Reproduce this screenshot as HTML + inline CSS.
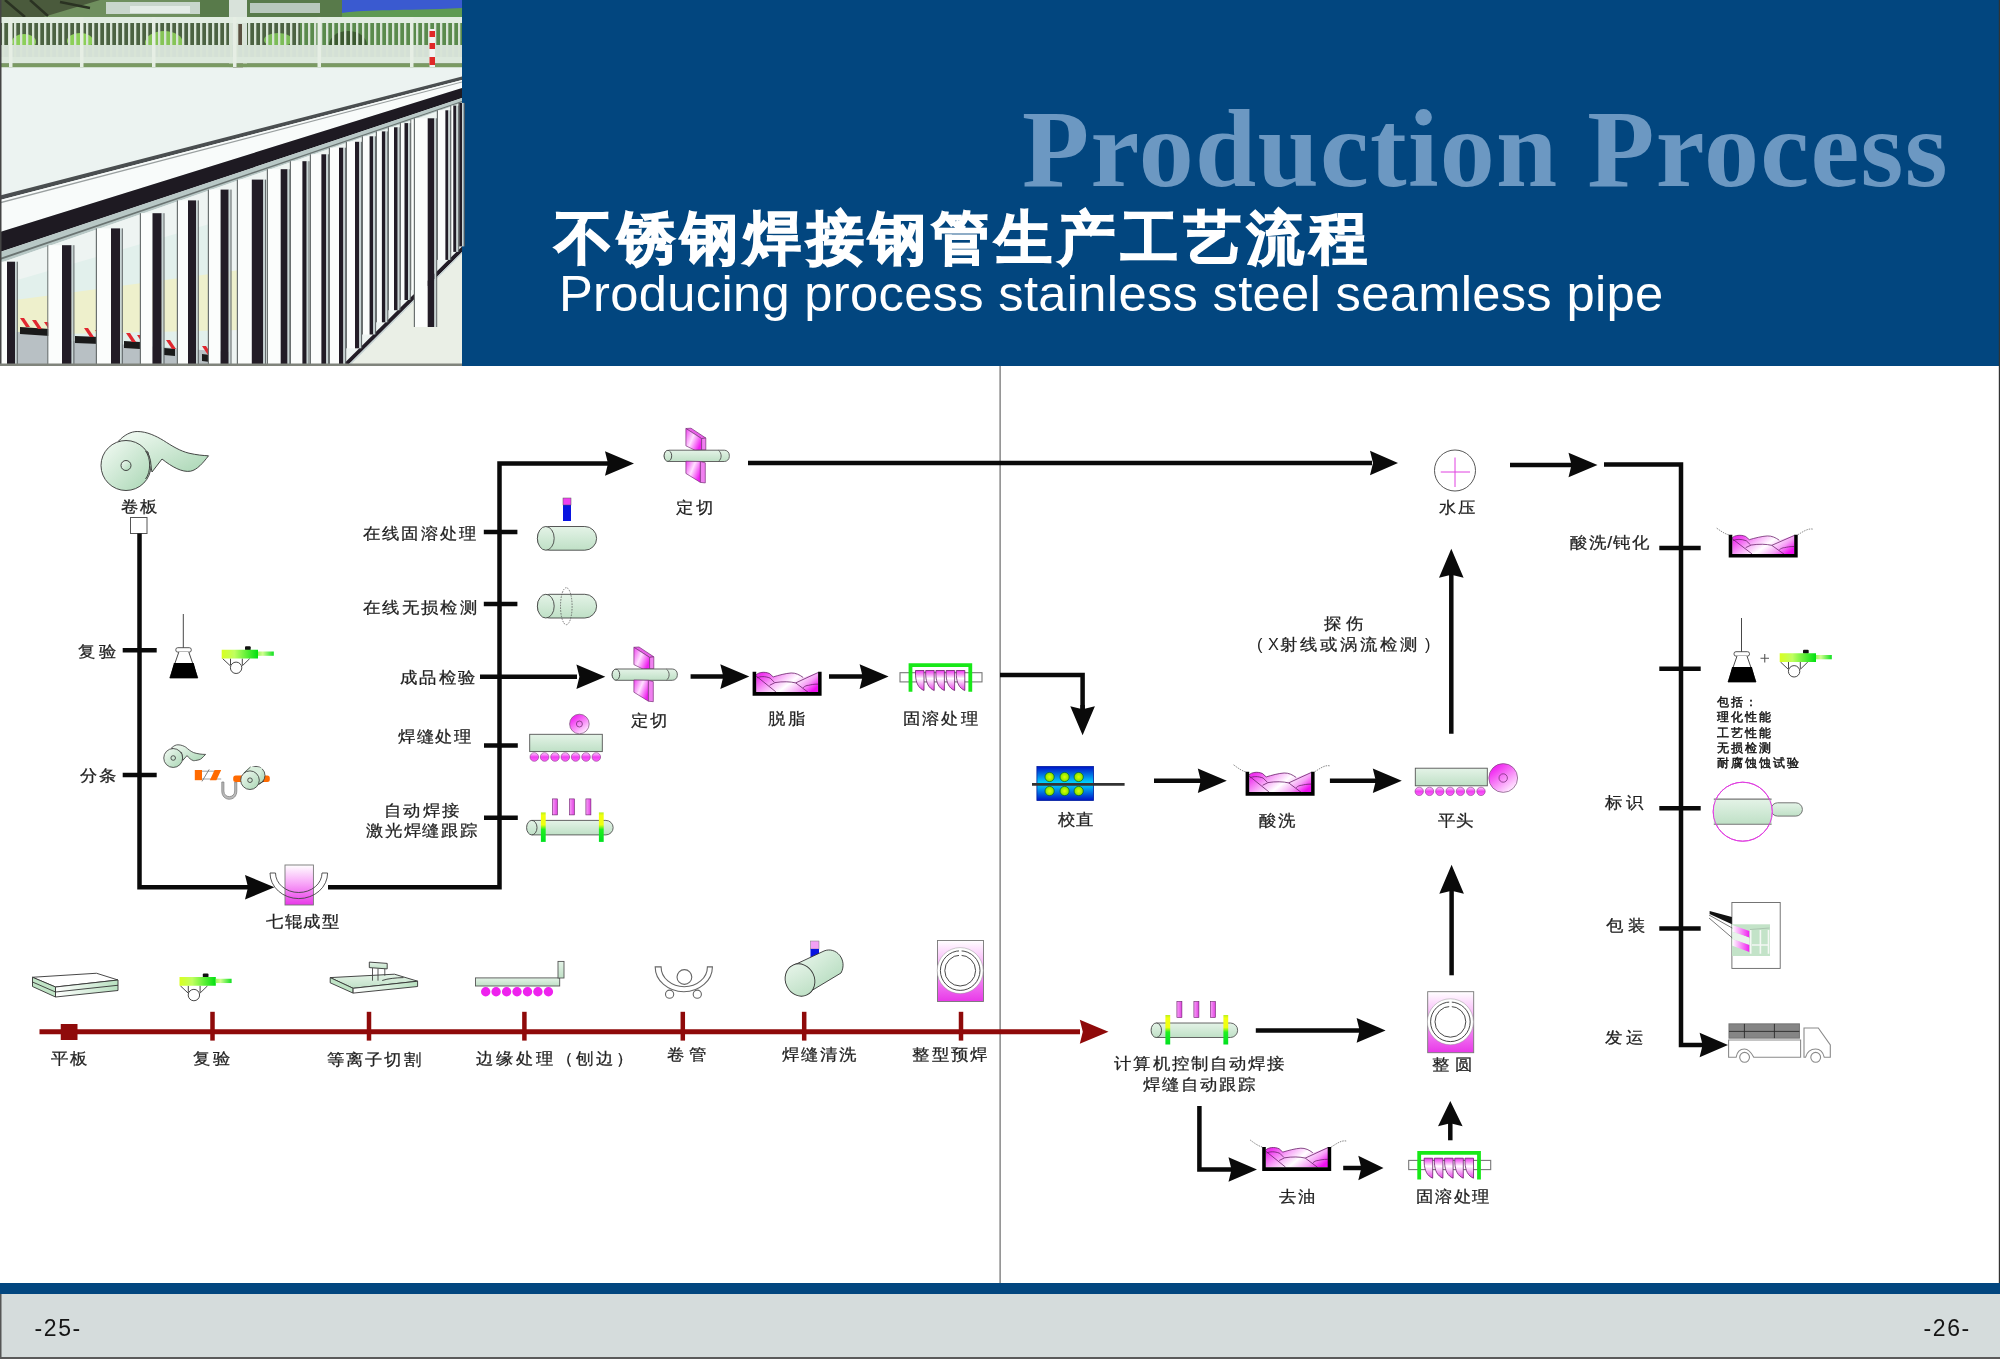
<!DOCTYPE html><html><head><meta charset="utf-8"><style>
html,body{margin:0;padding:0;background:#fff;width:2000px;height:1359px;overflow:hidden}
svg{display:block;will-change:transform}
text{font-family:"Liberation Sans", sans-serif}
</style></head><body>
<svg width="2000" height="1359" viewBox="0 0 2000 1359">
<defs>
<linearGradient id="gG" x1="0" y1="0" x2="1" y2="1"><stop offset="0" stop-color="#f4fbf5"/><stop offset="1" stop-color="#a9d6b4"/></linearGradient>
<linearGradient id="gGv" x1="0" y1="0" x2="0" y2="1"><stop offset="0" stop-color="#e4f3e7"/><stop offset="1" stop-color="#bfe0c6"/></linearGradient>
<linearGradient id="gMv" x1="0" y1="0" x2="0" y2="1"><stop offset="0" stop-color="#ffffff"/><stop offset="0.45" stop-color="#f8a8f8"/><stop offset="1" stop-color="#e838e8"/></linearGradient>
<linearGradient id="gMh" x1="0" y1="0" x2="1" y2="0"><stop offset="0" stop-color="#e030e0"/><stop offset="0.5" stop-color="#ffffff"/><stop offset="1" stop-color="#f020f0"/></linearGradient>
<linearGradient id="gTooth" x1="0" y1="0" x2="0" y2="1"><stop offset="0" stop-color="#ee30ee"/><stop offset="0.4" stop-color="#ffffff"/><stop offset="1" stop-color="#e840e8"/></linearGradient>
<linearGradient id="gLime" x1="0" y1="0" x2="1" y2="0"><stop offset="0" stop-color="#e6ff50"/><stop offset="1" stop-color="#22e022"/></linearGradient>
<linearGradient id="gMr" x1="0.2" y1="0.1" x2="0.8" y2="0.9"><stop offset="0" stop-color="#f020f0"/><stop offset="1" stop-color="#ffe8ff"/></linearGradient><linearGradient id="gRoll" x1="0" y1="0" x2="0" y2="1"><stop offset="0" stop-color="#ffd0ff"/><stop offset="0.5" stop-color="#f040f0"/><stop offset="1" stop-color="#ff60ff"/></linearGradient>
<radialGradient id="gY" cx="0.5" cy="0.5" r="0.55"><stop offset="0" stop-color="#e0ff00"/><stop offset="1" stop-color="#70e000"/></radialGradient>
<linearGradient id="gBlue" x1="0" y1="0" x2="0" y2="1"><stop offset="0" stop-color="#0010c8"/><stop offset="0.5" stop-color="#00dcff"/><stop offset="1" stop-color="#0010c8"/></linearGradient>
<linearGradient id="gClamp" x1="0" y1="0" x2="0" y2="1"><stop offset="0" stop-color="#b8f020"/><stop offset="0.1" stop-color="#f0ff10"/><stop offset="0.42" stop-color="#f0ff10"/><stop offset="0.58" stop-color="#20f020"/><stop offset="1" stop-color="#00e020"/></linearGradient>
<linearGradient id="gBar" x1="0" y1="0" x2="1" y2="0"><stop offset="0" stop-color="#f8a0f8"/><stop offset="1" stop-color="#e040e0"/></linearGradient>
<linearGradient id="gOr" x1="0" y1="0" x2="1" y2="0"><stop offset="0" stop-color="#ff5a00"/><stop offset="1" stop-color="#ff7a10"/></linearGradient>

<linearGradient id="gTank" x1="0" y1="0.3" x2="1" y2="0.7"><stop offset="0" stop-color="#ee30ee"/><stop offset="0.3" stop-color="#f8a8f8"/><stop offset="0.55" stop-color="#ffffff"/><stop offset="0.8" stop-color="#f6a0f6"/><stop offset="1" stop-color="#f010f0"/></linearGradient>
<g id="tank">
 <path d="M3.6,3 C6,0.5 12,-0.5 17,1.8 L20.6,5.1 C26,3.5 33,1.5 38.6,1.2 C43,1 47,3 50.6,5.7 L65.8,0.6 V20.3 H3.6 Z" fill="url(#gTank)"/>
 <path d="M3.6,3 C6,0.5 12,-0.5 17,1.8 L20.6,5.1 C26,3.5 33,1.5 38.6,1.2 C43,1 47,3 50.6,5.7 M65.8,0.6 L43.1,11.1 C38,9.8 30,9.5 22.4,10.8 L17,13.5 M4.4,6 C8,4.5 12,4.2 17.6,6.3 L21.8,10.5 M3.2,3.9 L23.3,20.1 M43.1,11.1 L55.4,20.4 M50.6,15.9 C52,14.5 54,13.5 56,13.5 C58,13 61,12.3 65.5,12.3" fill="none" stroke="#6a206a" stroke-width="0.8"/>
 <path d="M0,0 H3.6 V20.3 H65.5 V0 H69 V24 H0 Z" fill="#000"/>
</g>
<g id="heat">
 <rect x="0.5" y="9.5" width="82" height="9.2" fill="#fff" stroke="#777" stroke-width="1.1"/>
 <path id="tooth" d="M16,7.3 h8.5 v20 C19,25 16.5,20 16,12 Z" fill="url(#gTooth)" stroke="#6a206a" stroke-width="0.8"/>
 <use href="#tooth" x="10.2"/><use href="#tooth" x="20.4"/><use href="#tooth" x="30.6"/><use href="#tooth" x="40.8"/>
 <path d="M11,28.5 V1.9 H70.8 V28.5" fill="none" stroke="#18e818" stroke-width="3.8"/>
</g>
<linearGradient id="gLime2" x1="0" y1="0" x2="1" y2="0"><stop offset="0" stop-color="#d8ff20"/><stop offset="0.35" stop-color="#c0ff60"/><stop offset="1" stop-color="#00e010"/></linearGradient>
<linearGradient id="gLime3" x1="0" y1="0" x2="1" y2="0"><stop offset="0" stop-color="#a0f860"/><stop offset="0.3" stop-color="#d0ff90"/><stop offset="1" stop-color="#10e020"/></linearGradient>
<g id="gauge">
 <path d="M7.5,18.5 L15.3,25.8 M15.5,18.5 V25.3 M27.3,18.5 V25.3 M34.8,18.5 L27.3,25.8" stroke="#333" stroke-width="0.9" fill="none"/>
 <circle cx="21.1" cy="27.8" r="5.7" fill="#fff" stroke="#333" stroke-width="0.9"/>
 <rect x="30" y="6.2" width="5.7" height="4" rx="1" fill="#111"/>
 <rect x="6.7" y="9.75" width="36.3" height="8.75" fill="url(#gLime2)"/>
 <rect x="43" y="11.5" width="15.8" height="4.3" fill="url(#gLime3)"/>
</g>
<g id="flask">
 <line x1="8" y1="0" x2="8" y2="45" stroke="#333" stroke-width="0.9"/>
 <rect x="0.5" y="33.7" width="15.5" height="4.4" rx="2" fill="#fff" stroke="#444" stroke-width="0.9"/>
 <path d="M3.5,38.1 L-5.5,64 H22.5 L13.5,38.1" fill="#fff" stroke="#333" stroke-width="0.9"/>
 <path d="M-1.4,49 H18.4 L22.5,64 H-5.5 Z" fill="#000"/>
</g>
<linearGradient id="gBlade" x1="0" y1="0" x2="1" y2="0.6"><stop offset="0" stop-color="#f040f0"/><stop offset="0.5" stop-color="#ffe0ff"/><stop offset="1" stop-color="#f020f0"/></linearGradient>
<g id="cutter">
 <path d="M30.9,8.5 L36,8.2 L50.8,18 L46.6,18.6 Z" fill="#e860e8" stroke="#7a307a" stroke-width="0.7"/>
 <path d="M30.9,8.5 L46.6,18.6 L46.6,30 L40.2,30.4 L30.9,25.8 Z" fill="url(#gBlade)" stroke="#7a307a" stroke-width="0.7"/>
 <path d="M46.6,18.6 L50.8,18 L50.8,30 L46.6,30 Z" fill="#f080f0" stroke="#7a307a" stroke-width="0.7"/>
 <rect x="9.3" y="30.2" width="65" height="11.3" rx="5" fill="url(#gGv)" stroke="#555" stroke-width="0.9"/>
 <ellipse cx="12.9" cy="35.85" rx="3.8" ry="5.5" fill="url(#gGv)" stroke="#444" stroke-width="0.9"/>
 <path d="M63.5,30.4 C67,33 67,39 63.5,41.3" fill="none" stroke="#555" stroke-width="0.9"/>
 <path d="M30.9,41.2 L45.4,41.5 L45.4,62.4 L30.9,53.4 Z" fill="url(#gBlade)" stroke="#7a307a" stroke-width="0.7"/>
 <path d="M45.4,41.5 L50.3,42.8 L50.3,62.9 L45.4,62.4 Z" fill="#f080f0" stroke="#7a307a" stroke-width="0.7"/>
</g>
<g id="weld">
 <path d="M5.4,8 H79.5 A7.25,7.25 0 0 1 79.5,22.5 H5.4 Z" fill="url(#gGv)" stroke="#555" stroke-width="0.9"/>
 <ellipse cx="5.4" cy="15.25" rx="5.2" ry="7.25" fill="url(#gGv)" stroke="#444" stroke-width="0.9"/>
 <rect x="26" y="-13.5" width="5" height="16" fill="url(#gBar)" stroke="#6a206a" stroke-width="0.6"/>
 <rect x="43" y="-13.5" width="5" height="16" fill="url(#gBar)" stroke="#6a206a" stroke-width="0.6"/>
 <rect x="59.5" y="-13.5" width="5" height="16" fill="url(#gBar)" stroke="#6a206a" stroke-width="0.6"/>
 <rect x="14.5" y="0" width="4.8" height="29.5" fill="url(#gClamp)"/>
 <rect x="72.5" y="0" width="4.8" height="29.5" fill="url(#gClamp)"/>
</g>
<g id="rounder">
 <rect x="0.5" y="0.5" width="46" height="61" fill="url(#gMv)" stroke="#777" stroke-width="0.9"/>
 <circle cx="23.2" cy="30.6" r="23" fill="#fff" stroke="#999" stroke-width="0.5"/>
 <circle cx="23.2" cy="30.6" r="19.8" fill="none" stroke="#333" stroke-width="0.9"/>
 <circle cx="23.2" cy="30.6" r="15.4" fill="none" stroke="#333" stroke-width="0.9"/>
 <rect x="22" y="9" width="2.6" height="8" fill="#fff"/>
</g>
<g id="bath">
 <path d="M-12,-7 C-8,-4 -4,-1 0,0" fill="none" stroke="#555" stroke-width="0.7" stroke-dasharray="1.5,1"/>
 <path d="M69,0 C74,-3 79,-7 84,-6" fill="none" stroke="#555" stroke-width="0.7" stroke-dasharray="1.5,1"/>
 <use href="#tank"/>
</g>
</defs>

<rect x="462" y="0" width="1538" height="366" fill="#02467f"/>
<rect x="1998.8" y="0" width="1.2" height="1359" fill="#333"/>
<g id="photo">
<rect x="0" y="0" width="462" height="366" fill="#eaf2ef"/>
<rect x="0" y="0" width="462" height="20" fill="#6f8f5e"/>
<path d="M0,0 H100 C80,6 60,12 40,18 L0,18 Z" fill="#4a5a3c"/>
<path d="M5,0 L25,17 M30,0 L48,16 M60,2 L90,8" stroke="#2a3222" stroke-width="2.5"/>
<rect x="106" y="2" width="94" height="12" fill="#c9d6cc"/>
<rect x="130" y="6" width="60" height="7" fill="#e4ece6"/>
<rect x="200" y="0" width="142" height="18" fill="#587a4a"/>
<rect x="250" y="3" width="70" height="10" fill="#b8c8bc"/>
<rect x="342" y="0" width="120" height="13" fill="#3a5ad0"/>
<path d="M342,13 C370,9 400,11 462,8 V20 H342 Z" fill="#5e9a52"/>
<rect x="0" y="20" width="462" height="46" fill="#4c6242"/>
<rect x="300" y="20" width="162" height="26" fill="#5a8a4c"/>
<ellipse cx="24" cy="42" rx="12" ry="8" fill="#8ccf58"/>
<ellipse cx="80" cy="41" rx="13" ry="8" fill="#8ccf58"/>
<ellipse cx="164" cy="43" rx="19" ry="12" fill="#86c456"/>
<ellipse cx="348" cy="45" rx="19" ry="14" fill="#3c5a30"/>
<ellipse cx="278" cy="40" rx="14" ry="7" fill="#7cbc58"/>
<rect x="229" y="0" width="18" height="68" fill="#d8e2da"/><rect x="233" y="24" width="10" height="44" fill="#5a5040"/>
<rect x="0" y="45" width="462" height="12" fill="#d4e0d6"/>
<rect x="0" y="17" width="462" height="6" fill="#e2ede2"/>
<rect x="0" y="57" width="462" height="6.5" fill="#dce8dc"/>
<rect x="0" y="63.5" width="462" height="4" fill="#7a9a62"/>
<rect x="2.0" y="23" width="2.3" height="34" fill="#d8e4d6"/>
<rect x="8.0" y="23" width="2.3" height="34" fill="#d8e4d6"/>
<rect x="14.0" y="23" width="2.3" height="34" fill="#d8e4d6"/>
<rect x="20.0" y="23" width="2.3" height="34" fill="#d8e4d6"/>
<rect x="26.0" y="23" width="2.3" height="34" fill="#d8e4d6"/>
<rect x="32.0" y="23" width="2.3" height="34" fill="#d8e4d6"/>
<rect x="38.0" y="23" width="2.3" height="34" fill="#d8e4d6"/>
<rect x="44.0" y="23" width="2.3" height="34" fill="#d8e4d6"/>
<rect x="50.0" y="23" width="2.3" height="34" fill="#d8e4d6"/>
<rect x="56.0" y="23" width="2.3" height="34" fill="#d8e4d6"/>
<rect x="62.0" y="23" width="2.3" height="34" fill="#d8e4d6"/>
<rect x="68.0" y="23" width="2.3" height="34" fill="#d8e4d6"/>
<rect x="74.0" y="23" width="2.3" height="34" fill="#d8e4d6"/>
<rect x="80.0" y="23" width="2.3" height="34" fill="#d8e4d6"/>
<rect x="86.0" y="23" width="2.3" height="34" fill="#d8e4d6"/>
<rect x="92.0" y="23" width="2.3" height="34" fill="#d8e4d6"/>
<rect x="98.0" y="23" width="2.3" height="34" fill="#d8e4d6"/>
<rect x="104.0" y="23" width="2.3" height="34" fill="#d8e4d6"/>
<rect x="110.0" y="23" width="2.3" height="34" fill="#d8e4d6"/>
<rect x="116.0" y="23" width="2.3" height="34" fill="#d8e4d6"/>
<rect x="122.0" y="23" width="2.3" height="34" fill="#d8e4d6"/>
<rect x="128.0" y="23" width="2.3" height="34" fill="#d8e4d6"/>
<rect x="134.0" y="23" width="2.3" height="34" fill="#d8e4d6"/>
<rect x="140.0" y="23" width="2.3" height="34" fill="#d8e4d6"/>
<rect x="146.0" y="23" width="2.3" height="34" fill="#d8e4d6"/>
<rect x="152.0" y="23" width="2.3" height="34" fill="#d8e4d6"/>
<rect x="158.0" y="23" width="2.3" height="34" fill="#d8e4d6"/>
<rect x="164.0" y="23" width="2.3" height="34" fill="#d8e4d6"/>
<rect x="170.0" y="23" width="2.3" height="34" fill="#d8e4d6"/>
<rect x="176.0" y="23" width="2.3" height="34" fill="#d8e4d6"/>
<rect x="182.0" y="23" width="2.3" height="34" fill="#d8e4d6"/>
<rect x="188.0" y="23" width="2.3" height="34" fill="#d8e4d6"/>
<rect x="194.0" y="23" width="2.3" height="34" fill="#d8e4d6"/>
<rect x="200.0" y="23" width="2.3" height="34" fill="#d8e4d6"/>
<rect x="206.0" y="23" width="2.3" height="34" fill="#d8e4d6"/>
<rect x="212.0" y="23" width="2.3" height="34" fill="#d8e4d6"/>
<rect x="218.0" y="23" width="2.3" height="34" fill="#d8e4d6"/>
<rect x="224.0" y="23" width="2.3" height="34" fill="#d8e4d6"/>
<rect x="230.0" y="23" width="2.3" height="34" fill="#d8e4d6"/>
<rect x="236.0" y="23" width="2.3" height="34" fill="#d8e4d6"/>
<rect x="242.0" y="23" width="2.3" height="34" fill="#d8e4d6"/>
<rect x="248.0" y="23" width="2.3" height="34" fill="#d8e4d6"/>
<rect x="254.0" y="23" width="2.3" height="34" fill="#d8e4d6"/>
<rect x="260.0" y="23" width="2.3" height="34" fill="#d8e4d6"/>
<rect x="266.0" y="23" width="2.3" height="34" fill="#d8e4d6"/>
<rect x="272.0" y="23" width="2.3" height="34" fill="#d8e4d6"/>
<rect x="278.0" y="23" width="2.3" height="34" fill="#d8e4d6"/>
<rect x="284.0" y="23" width="2.3" height="34" fill="#d8e4d6"/>
<rect x="290.0" y="23" width="2.3" height="34" fill="#d8e4d6"/>
<rect x="296.0" y="23" width="2.3" height="34" fill="#d8e4d6"/>
<rect x="302.0" y="23" width="2.3" height="34" fill="#d8e4d6"/>
<rect x="308.0" y="23" width="2.3" height="34" fill="#d8e4d6"/>
<rect x="314.0" y="23" width="2.3" height="34" fill="#d8e4d6"/>
<rect x="320.0" y="23" width="2.3" height="34" fill="#d8e4d6"/>
<rect x="326.0" y="23" width="2.3" height="34" fill="#d8e4d6"/>
<rect x="332.0" y="23" width="2.3" height="34" fill="#d8e4d6"/>
<rect x="338.0" y="23" width="2.3" height="34" fill="#d8e4d6"/>
<rect x="344.0" y="23" width="2.3" height="34" fill="#d8e4d6"/>
<rect x="350.0" y="23" width="2.3" height="34" fill="#d8e4d6"/>
<rect x="356.0" y="23" width="2.3" height="34" fill="#d8e4d6"/>
<rect x="362.0" y="23" width="2.3" height="34" fill="#d8e4d6"/>
<rect x="368.0" y="23" width="2.3" height="34" fill="#d8e4d6"/>
<rect x="374.0" y="23" width="2.3" height="34" fill="#d8e4d6"/>
<rect x="380.0" y="23" width="2.3" height="34" fill="#d8e4d6"/>
<rect x="386.0" y="23" width="2.3" height="34" fill="#d8e4d6"/>
<rect x="392.0" y="23" width="2.3" height="34" fill="#d8e4d6"/>
<rect x="398.0" y="23" width="2.3" height="34" fill="#d8e4d6"/>
<rect x="404.0" y="23" width="2.3" height="34" fill="#d8e4d6"/>
<rect x="410.0" y="23" width="2.3" height="34" fill="#d8e4d6"/>
<rect x="416.0" y="23" width="2.3" height="34" fill="#d8e4d6"/>
<rect x="422.0" y="23" width="2.3" height="34" fill="#d8e4d6"/>
<rect x="428.0" y="23" width="2.3" height="34" fill="#d8e4d6"/>
<rect x="434.0" y="23" width="2.3" height="34" fill="#d8e4d6"/>
<rect x="440.0" y="23" width="2.3" height="34" fill="#d8e4d6"/>
<rect x="446.0" y="23" width="2.3" height="34" fill="#d8e4d6"/>
<rect x="452.0" y="23" width="2.3" height="34" fill="#d8e4d6"/>
<rect x="458.0" y="23" width="2.3" height="34" fill="#d8e4d6"/>
<rect x="9" y="17" width="3.5" height="50" fill="#e6eee4"/>
<rect x="80" y="17" width="3.5" height="50" fill="#e6eee4"/>
<rect x="152" y="17" width="3.5" height="50" fill="#e6eee4"/>
<rect x="233" y="17" width="3.5" height="50" fill="#e6eee4"/>
<rect x="317.5" y="17" width="3.5" height="50" fill="#e6eee4"/>
<rect x="410" y="17" width="3.5" height="50" fill="#e6eee4"/>
<rect x="429.5" y="29" width="5.5" height="38" fill="#f2f2f2"/><rect x="429.5" y="31" width="5.5" height="6" fill="#e02828"/><rect x="429.5" y="43" width="5.5" height="6" fill="#e02828"/><rect x="429.5" y="57" width="5.5" height="8" fill="#e02828"/>
<rect x="0" y="67.5" width="462" height="140" fill="#ecf3f1"/>
<polygon points="0,195.5 462,76.5 462,80 0,200" fill="#4a4e50"/>
<polygon points="0,200 462,80 462,88 0,232" fill="#f8fbfa"/>
<polygon points="0,202 462,81.5 462,82.5 0,203.5" fill="#9aa0a0"/>
<polygon points="0,232 462,88 462,98 0,252" fill="#1e1a22"/>
<polygon points="0,252 462,98 462,103 0,263" fill="#b8c8c6"/><polygon points="0,258 462,101 462,102 0,260" fill="#6a7472"/>
<polygon points="0,263 462,103 462,366 0,366" fill="#eef4f2"/>
<polygon points="0,285 230,218 230,366 0,366" fill="#e2f0ec"/>
<polygon points="15,300 240,270 240,330 15,335" fill="#eef0cc"/>
<polygon points="15,332 60,331 60,366 15,366" fill="#b8c0c4"/><polygon points="60,340 230,352 230,366 60,366" fill="#b8c0c4"/>
<polygon points="20,327 50,329 50,336 20,334" fill="#1a1a1a"/>
<polygon points="75,336 100,337 100,344 75,343" fill="#1a1a1a"/>
<polygon points="124,341 140,342 140,349 124,348" fill="#1a1a1a"/>
<polygon points="164,348 175,349 175,356 164,355" fill="#1a1a1a"/>
<polygon points="202,354 210,355 210,362 202,361" fill="#1a1a1a"/>
<polygon points="20,318 24,318 30,327 26,327" fill="#e02830"/>
<polygon points="32,320 36,320 42,329 38,329" fill="#e02830"/>
<polygon points="44,322 48,322 54,331 50,331" fill="#e02830"/>
<polygon points="84,328 88,328 94,337 90,337" fill="#e02830"/>
<polygon points="95,330 99,330 105,339 101,339" fill="#e02830"/>
<polygon points="126,333 130,333 136,342 132,342" fill="#e02830"/>
<polygon points="137,335 141,335 147,344 143,344" fill="#e02830"/>
<polygon points="166,340 170,340 176,349 172,349" fill="#e02830"/>
<polygon points="177,342 181,342 187,351 183,351" fill="#e02830"/>
<polygon points="202,346 206,346 212,355 208,355" fill="#e02830"/>
<polygon points="341.5,366 462,246.4 462,252 347,366" fill="#221c26"/><polygon points="347,366 462,252 462,254 349.5,366" fill="#c8d4d4"/>
<polygon points="349.5,366 462,254 462,366" fill="#eaefe6"/>
<rect x="1.0" y="261.7" width="6.0" height="104.3" fill="#fbfdfc"/>
<rect x="7.0" y="261.7" width="8.0" height="104.3" fill="#221c26"/>
<rect x="15.0" y="261.7" width="1.8" height="104.3" fill="#c8d4d4"/>
<rect x="16.8" y="261.7" width="1" height="104.3" fill="#5a6062"/>
<rect x="47.3" y="245.2" width="1.2" height="120.8" fill="#6a7070"/>
<rect x="48.5" y="245.2" width="13.5" height="120.8" fill="#fbfdfc"/>
<rect x="62.0" y="245.2" width="9.6" height="120.8" fill="#221c26"/>
<rect x="71.6" y="245.2" width="1.8" height="120.8" fill="#c8d4d4"/>
<rect x="73.4" y="245.2" width="1" height="120.8" fill="#5a6062"/>
<rect x="95.8" y="228.4" width="1.2" height="137.6" fill="#6a7070"/>
<rect x="97.0" y="228.4" width="14.0" height="137.6" fill="#fbfdfc"/>
<rect x="111.0" y="228.4" width="9.0" height="137.6" fill="#221c26"/>
<rect x="120.0" y="228.4" width="1.8" height="137.6" fill="#c8d4d4"/>
<rect x="121.8" y="228.4" width="1" height="137.6" fill="#5a6062"/>
<rect x="139.8" y="213.2" width="1.2" height="152.8" fill="#6a7070"/>
<rect x="141.0" y="213.2" width="11.5" height="152.8" fill="#fbfdfc"/>
<rect x="152.5" y="213.2" width="9.2" height="152.8" fill="#221c26"/>
<rect x="161.7" y="213.2" width="1.8" height="152.8" fill="#c8d4d4"/>
<rect x="163.5" y="213.2" width="1" height="152.8" fill="#5a6062"/>
<rect x="176.8" y="200.4" width="1.2" height="165.6" fill="#6a7070"/>
<rect x="178.0" y="200.4" width="10.0" height="165.6" fill="#fbfdfc"/>
<rect x="188.0" y="200.4" width="8.0" height="165.6" fill="#221c26"/>
<rect x="196.0" y="200.4" width="1.8" height="165.6" fill="#c8d4d4"/>
<rect x="197.8" y="200.4" width="1" height="165.6" fill="#5a6062"/>
<rect x="207.8" y="189.6" width="1.2" height="176.4" fill="#6a7070"/>
<rect x="209.0" y="189.6" width="11.6" height="176.4" fill="#fbfdfc"/>
<rect x="220.6" y="189.6" width="8.1" height="176.4" fill="#221c26"/>
<rect x="228.7" y="189.6" width="1.8" height="176.4" fill="#c8d4d4"/>
<rect x="230.5" y="189.6" width="1" height="176.4" fill="#5a6062"/>
<rect x="236.8" y="179.6" width="1.2" height="186.4" fill="#6a7070"/>
<rect x="238.0" y="179.6" width="13.8" height="186.4" fill="#fbfdfc"/>
<rect x="251.8" y="179.6" width="11.5" height="186.4" fill="#221c26"/>
<rect x="263.3" y="179.6" width="1.8" height="186.4" fill="#c8d4d4"/>
<rect x="265.1" y="179.6" width="1" height="186.4" fill="#5a6062"/>
<rect x="266.8" y="169.2" width="1.2" height="196.8" fill="#6a7070"/>
<rect x="268.0" y="169.2" width="12.7" height="196.8" fill="#fbfdfc"/>
<rect x="280.7" y="169.2" width="6.9" height="196.8" fill="#221c26"/>
<rect x="287.6" y="169.2" width="1.8" height="196.8" fill="#c8d4d4"/>
<rect x="289.4" y="169.2" width="1" height="196.8" fill="#5a6062"/>
<rect x="289.8" y="161.2" width="1.2" height="204.8" fill="#6a7070"/>
<rect x="291.0" y="161.2" width="11.4" height="204.8" fill="#fbfdfc"/>
<rect x="302.4" y="161.2" width="4.3" height="204.8" fill="#221c26"/>
<rect x="306.7" y="161.2" width="1.8" height="204.8" fill="#c8d4d4"/>
<rect x="308.5" y="161.2" width="1" height="204.8" fill="#5a6062"/>
<rect x="309.8" y="154.3" width="1.2" height="211.7" fill="#6a7070"/>
<rect x="311.0" y="154.3" width="10.4" height="211.7" fill="#fbfdfc"/>
<rect x="321.4" y="154.3" width="4.9" height="211.7" fill="#221c26"/>
<rect x="326.3" y="154.3" width="1.8" height="211.7" fill="#c8d4d4"/>
<rect x="328.1" y="154.3" width="1" height="211.7" fill="#5a6062"/>
<rect x="328.8" y="147.7" width="1.2" height="216.4" fill="#6a7070"/>
<rect x="330.0" y="147.7" width="9.0" height="216.4" fill="#fbfdfc"/>
<rect x="339.0" y="147.7" width="4.4" height="216.4" fill="#221c26"/>
<rect x="343.4" y="147.7" width="1.8" height="216.4" fill="#c8d4d4"/>
<rect x="345.2" y="147.7" width="1" height="216.4" fill="#5a6062"/>
<rect x="345.8" y="141.8" width="1.2" height="206.5" fill="#6a7070"/>
<rect x="347.0" y="141.8" width="8.0" height="206.5" fill="#fbfdfc"/>
<rect x="355.0" y="141.8" width="4.3" height="206.5" fill="#221c26"/>
<rect x="359.3" y="141.8" width="1.8" height="206.5" fill="#c8d4d4"/>
<rect x="361.1" y="141.8" width="1" height="206.5" fill="#5a6062"/>
<rect x="361.8" y="136.3" width="1.2" height="198.2" fill="#6a7070"/>
<rect x="363.0" y="136.3" width="6.6" height="198.2" fill="#fbfdfc"/>
<rect x="369.6" y="136.3" width="3.7" height="198.2" fill="#221c26"/>
<rect x="373.3" y="136.3" width="1.8" height="198.2" fill="#c8d4d4"/>
<rect x="375.1" y="136.3" width="1" height="198.2" fill="#5a6062"/>
<rect x="375.8" y="131.4" width="1.2" height="190.9" fill="#6a7070"/>
<rect x="377.0" y="131.4" width="4.9" height="190.9" fill="#fbfdfc"/>
<rect x="381.9" y="131.4" width="3.6" height="190.9" fill="#221c26"/>
<rect x="385.5" y="131.4" width="1.8" height="190.9" fill="#c8d4d4"/>
<rect x="387.3" y="131.4" width="1" height="190.9" fill="#5a6062"/>
<rect x="387.8" y="127.3" width="1.2" height="182.9" fill="#6a7070"/>
<rect x="389.0" y="127.3" width="5.0" height="182.9" fill="#fbfdfc"/>
<rect x="394.0" y="127.3" width="3.7" height="182.9" fill="#221c26"/>
<rect x="397.7" y="127.3" width="1.8" height="182.9" fill="#c8d4d4"/>
<rect x="399.5" y="127.3" width="1" height="182.9" fill="#5a6062"/>
<rect x="399.8" y="123.1" width="1.2" height="176.9" fill="#6a7070"/>
<rect x="401.0" y="123.1" width="3.5" height="176.9" fill="#fbfdfc"/>
<rect x="404.5" y="123.1" width="3.5" height="176.9" fill="#221c26"/>
<rect x="408.0" y="123.1" width="1.8" height="176.9" fill="#c8d4d4"/>
<rect x="409.8" y="123.1" width="1" height="176.9" fill="#5a6062"/>
<rect x="410.3" y="119.5" width="1.2" height="170.6" fill="#6a7070"/>
<rect x="411.5" y="119.5" width="2.7" height="170.6" fill="#fbfdfc"/>
<rect x="414.2" y="119.5" width="3.8" height="170.6" fill="#221c26"/>
<rect x="418.0" y="119.5" width="1.8" height="170.6" fill="#c8d4d4"/>
<rect x="419.8" y="119.5" width="1" height="170.6" fill="#5a6062"/>
<rect x="413.8" y="118.3" width="1.2" height="208.7" fill="#6a7070"/>
<rect x="415.0" y="118.3" width="12.7" height="208.7" fill="#fbfdfc"/>
<rect x="427.7" y="118.3" width="6.7" height="208.7" fill="#221c26"/>
<rect x="434.4" y="118.3" width="1.8" height="208.7" fill="#c8d4d4"/>
<rect x="436.2" y="118.3" width="1" height="208.7" fill="#5a6062"/>
<rect x="436.8" y="110.3" width="1.2" height="149.6" fill="#6a7070"/>
<rect x="438.0" y="110.3" width="7.4" height="149.6" fill="#fbfdfc"/>
<rect x="445.4" y="110.3" width="3.0" height="149.6" fill="#221c26"/>
<rect x="448.4" y="110.3" width="1.8" height="149.6" fill="#c8d4d4"/>
<rect x="450.2" y="110.3" width="1" height="149.6" fill="#5a6062"/>
<rect x="450.3" y="105.6" width="1.2" height="146.3" fill="#6a7070"/>
<rect x="451.5" y="105.6" width="1.8" height="146.3" fill="#fbfdfc"/>
<rect x="453.3" y="105.6" width="3.1" height="146.3" fill="#221c26"/>
<rect x="456.4" y="105.6" width="1.8" height="146.3" fill="#c8d4d4"/>
<rect x="458.2" y="105.6" width="1" height="146.3" fill="#5a6062"/>
<rect x="458.3" y="102.9" width="1.2" height="143.5" fill="#6a7070"/>
<rect x="459.5" y="102.9" width="-0.1" height="143.5" fill="#fbfdfc"/>
<rect x="459.4" y="102.9" width="2.6" height="143.5" fill="#221c26"/>
<rect x="462.0" y="102.9" width="1.8" height="143.5" fill="#c8d4d4"/>
<rect x="463.8" y="102.9" width="1" height="143.5" fill="#5a6062"/>
<rect x="0" y="0" width="1.5" height="366" fill="#444"/>
<rect x="0" y="363.5" width="462" height="2.5" fill="#80847c"/>
</g>
<text x="1022" y="186" style="font-family:'Liberation Serif', serif" font-weight="bold" font-size="110" letter-spacing="1.3" fill="#6c98c2">Production Process</text>
<text transform="translate(555,257.5) scale(0.983,1)" font-size="57.5" font-weight="bold" fill="#ffffff" stroke="#ffffff" stroke-width="1.6" letter-spacing="6.5">不锈钢焊接钢管生产工艺流程</text>
<text x="559" y="311.3" font-size="50.7" letter-spacing="0.3" fill="#ffffff">Producing process stainless steel seamless pipe</text>
<rect x="999.5" y="366" width="1.2" height="918" fill="#6a6a6a"/>
<rect x="0" y="1283" width="2000" height="11" fill="#02467f"/>
<rect x="0" y="1294" width="2000" height="63" fill="#d5dcdc"/>
<rect x="0" y="1294" width="1.5" height="63" fill="#555"/>
<rect x="0" y="1357" width="2000" height="2" fill="#5a5a5a"/>
<text transform="translate(34.50,1336.00) scale(1,1)" font-size="23" letter-spacing="1.60" text-anchor="start" fill="#151515" font-weight="normal" >-25-</text>
<text transform="translate(1923.50,1336.00) scale(1,1)" font-size="23" letter-spacing="1.60" text-anchor="start" fill="#151515" font-weight="normal" >-26-</text>
<g>
<path d="M118.5,441.2 C124,435 131,431.5 137.2,431.5 C147,431.5 156,436 163.5,440.5 C172,446 180,451 189,453.2 C197,455 203,455.5 208.5,455.8 C203,463 197,470 190.5,471.2 C182,472.5 172,467 162,459 L152,472 L148,452 Z" fill="url(#gG)" stroke="#333" stroke-width="0.9"/>
<circle cx="126" cy="465.5" r="25" fill="url(#gG)" stroke="#333" stroke-width="0.9"/>
<path d="M145.5,451 C151,458 151,472 145.5,479" fill="none" stroke="#333" stroke-width="0.9"/>
<circle cx="126" cy="465.5" r="5" fill="url(#gG)" stroke="#333" stroke-width="0.9"/>
</g>
<text transform="translate(121.10,512.37) scale(1.085,1)" font-size="16.3" letter-spacing="1.40" text-anchor="start" fill="#222" font-weight="normal" stroke="#222" stroke-width="0.25" >卷板</text>
<rect x="130.5" y="517.5" width="16.5" height="16" fill="#fff" stroke="#555" stroke-width="1"/>
<polyline points="139.5,533.5 139.5,887.2 250,887.2" fill="none" stroke="#0a0a0a" stroke-width="4.5" stroke-linejoin="miter"/>
<polygon points="274.4,887.2 245.0,874.9 248.0,887.2 245.0,899.5" fill="#0a0a0a" />
<line x1="122.7" y1="650.2" x2="156.7" y2="650.2" stroke="#0a0a0a" stroke-width="4.5" stroke-linecap="butt"/>
<text transform="translate(78.15,656.51) scale(1.085,1)" font-size="16.3" letter-spacing="2.64" text-anchor="start" fill="#222" font-weight="normal" stroke="#222" stroke-width="0.25" >复验</text>
<line x1="122.7" y1="775" x2="156.7" y2="775" stroke="#0a0a0a" stroke-width="4.5" stroke-linecap="butt"/>
<text transform="translate(79.50,780.65) scale(1.085,1)" font-size="16.3" letter-spacing="1.81" text-anchor="start" fill="#222" font-weight="normal" stroke="#222" stroke-width="0.25" >分条</text>
<use href="#flask" transform="translate(175.3,614)"/>
<use href="#gauge" transform="translate(215,640)"/>
<g>
<path d="M171.4,748.1 C174,745.5 176,744.8 178,744.8 C181,744.8 184,746 185.8,747.2 C188,749 190,751 193.6,752.6 C198,754 202,754.4 205.6,754.4 C203,757 201,759.5 199,759.8 C196,760.5 194.5,760.7 193.6,760.7 C191,760 189,758 187,755.6 L182.8,760.4 L181.6,752.6 Z" fill="url(#gG)" stroke="#333" stroke-width="0.8"/>
<circle cx="173.2" cy="758" r="9.45" fill="url(#gG)" stroke="#333" stroke-width="0.8"/>
<circle cx="173.2" cy="758" r="2.3" fill="none" stroke="#333" stroke-width="0.8"/>
<path d="M202,771.2 H220 M202,779 H221.2" stroke="#999" stroke-width="0.9"/>
<rect x="194.8" y="770" width="7.2" height="10.2" fill="#ff6a00"/>
<polygon points="214.6,770 221.2,770 216.4,780.2 209.8,780.2" fill="#ff6a00"/>
<line x1="209.2" y1="769.4" x2="202" y2="781.4" stroke="#666" stroke-width="0.8"/>
<path d="M221.8,782 V791 C221.8,802 236.8,802 236.8,791 V782 L234.7,782 V791 C234.7,798.5 223.9,798.5 223.9,791 V782 Z" fill="#bbb" stroke="#777" stroke-width="0.7"/>
<rect x="233.2" y="775.4" width="36.6" height="6.6" rx="2.5" fill="#ff6a00"/>
<circle cx="256" cy="775.4" r="9" fill="url(#gG)" stroke="#333" stroke-width="0.8"/>
<path d="M243,773 L250,766.6 L262,768 L258,784 L250,789.5 Z" fill="#d8eedc"/>
<circle cx="250" cy="780.2" r="9.3" fill="url(#gG)" stroke="#333" stroke-width="0.8"/>
<path d="M244,773 L250.5,767 M258.5,784.5 L264,781" stroke="#333" stroke-width="0.8"/>
<circle cx="250" cy="780.2" r="2.3" fill="none" stroke="#333" stroke-width="0.8"/>
</g>
<g>
<rect x="285" y="865" width="28.4" height="40" fill="url(#gMv)" stroke="#777" stroke-width="0.9"/>
<path d="M270,873 A28.8,25.6 0 0 0 327.6,873 L322,873 A23.25,19.5 0 0 1 275.5,873 Z" fill="none" stroke="#444" stroke-width="0.9"/>
</g>
<text transform="translate(266.00,926.70) scale(1.085,1)" font-size="16.3" letter-spacing="0.98" text-anchor="start" fill="#222" font-weight="normal" stroke="#222" stroke-width="0.25" >七辊成型</text>
<polyline points="328,887.2 499.5,887.2 499.5,463.5 608,463.5" fill="none" stroke="#0a0a0a" stroke-width="4.5" stroke-linejoin="miter"/>
<polygon points="634.0,463.5 605.0,451.2 608.0,463.5 605.0,475.8" fill="#0a0a0a" />
<use href="#cutter" transform="translate(655,420)"/>
<text transform="translate(676.00,512.64) scale(1.085,1)" font-size="16.3" letter-spacing="2.06" text-anchor="start" fill="#222" font-weight="normal" stroke="#222" stroke-width="0.25" >定切</text>
<line x1="483.8" y1="532" x2="517.4" y2="532" stroke="#0a0a0a" stroke-width="4.5" stroke-linecap="butt"/>
<line x1="483.8" y1="604" x2="517.4" y2="604" stroke="#0a0a0a" stroke-width="4.5" stroke-linecap="butt"/>
<text transform="translate(363.07,539.24) scale(1.085,1)" font-size="16.3" letter-spacing="1.36" text-anchor="start" fill="#222" font-weight="normal" stroke="#222" stroke-width="0.25" >在线固溶处理</text>
<text transform="translate(363.07,612.74) scale(1.085,1)" font-size="16.3" letter-spacing="1.53" text-anchor="start" fill="#222" font-weight="normal" stroke="#222" stroke-width="0.25" >在线无损检测</text>
<g>
<rect x="537.4" y="526.5" width="59.2" height="23.7" rx="11.8" fill="url(#gGv)" stroke="#444" stroke-width="0.9"/>
<ellipse cx="545.8" cy="538.35" rx="8.4" ry="11.85" fill="url(#gGv)" stroke="#444" stroke-width="0.9"/>
<rect x="563" y="505" width="8" height="16" fill="#0a14e0"/>
<rect x="563" y="498" width="8" height="7" fill="#f040f0" stroke="#555" stroke-width="0.5"/>
<rect x="537.4" y="594.3" width="59.2" height="23.7" rx="11.8" fill="url(#gGv)" stroke="#444" stroke-width="0.9"/>
<ellipse cx="545.8" cy="606.15" rx="8.4" ry="11.85" fill="url(#gGv)" stroke="#444" stroke-width="0.9"/>
<ellipse cx="566.3" cy="606.2" rx="5.8" ry="18.5" fill="none" stroke="#555" stroke-width="0.8" stroke-dasharray="1.5,1.2"/>
</g>
<line x1="480" y1="676.7" x2="577" y2="676.7" stroke="#0a0a0a" stroke-width="4.5" stroke-linecap="butt"/>
<polygon points="605.3,676.7 576.4,664.4 579.4,676.7 576.4,689.0" fill="#0a0a0a" />
<text transform="translate(400.16,683.19) scale(1.085,1)" font-size="16.3" letter-spacing="1.42" text-anchor="start" fill="#222" font-weight="normal" stroke="#222" stroke-width="0.25" >成品检验</text>
<use href="#cutter" transform="translate(603,638.8)"/>
<text transform="translate(631.00,725.86) scale(1.085,1)" font-size="16.3" letter-spacing="1.15" text-anchor="start" fill="#222" font-weight="normal" stroke="#222" stroke-width="0.25" >定切</text>
<line x1="484" y1="745.6" x2="517.8" y2="745.6" stroke="#0a0a0a" stroke-width="4.5" stroke-linecap="butt"/>
<text transform="translate(397.96,741.70) scale(1.085,1)" font-size="16.3" letter-spacing="0.87" text-anchor="start" fill="#222" font-weight="normal" stroke="#222" stroke-width="0.25" >焊缝处理</text>
<g>
<rect x="529.7" y="734.3" width="72.6" height="17.3" fill="url(#gGv)" stroke="#555" stroke-width="0.9"/>
<circle cx="579.4" cy="724" r="9.8" fill="url(#gMr)" stroke="#7a507a" stroke-width="0.7"/>
<circle cx="579.4" cy="724" r="3" fill="none" stroke="#7a307a" stroke-width="0.8"/>
</g>
<circle cx="534.3" cy="757" r="4.3" fill="url(#gRoll)" stroke="#8a3a8a" stroke-width="0.6"/>
<circle cx="544.6" cy="757" r="4.3" fill="url(#gRoll)" stroke="#8a3a8a" stroke-width="0.6"/>
<circle cx="555.0" cy="757" r="4.3" fill="url(#gRoll)" stroke="#8a3a8a" stroke-width="0.6"/>
<circle cx="565.3" cy="757" r="4.3" fill="url(#gRoll)" stroke="#8a3a8a" stroke-width="0.6"/>
<circle cx="575.6" cy="757" r="4.3" fill="url(#gRoll)" stroke="#8a3a8a" stroke-width="0.6"/>
<circle cx="586.0" cy="757" r="4.3" fill="url(#gRoll)" stroke="#8a3a8a" stroke-width="0.6"/>
<circle cx="596.3" cy="757" r="4.3" fill="url(#gRoll)" stroke="#8a3a8a" stroke-width="0.6"/>
<line x1="484" y1="817.8" x2="517.8" y2="817.8" stroke="#0a0a0a" stroke-width="4.5" stroke-linecap="butt"/>
<text transform="translate(384.20,815.64) scale(1.085,1)" font-size="16.3" letter-spacing="1.48" text-anchor="start" fill="#222" font-weight="normal" stroke="#222" stroke-width="0.25" >自动焊接</text>
<text transform="translate(365.62,835.96) scale(1.085,1)" font-size="16.3" letter-spacing="1.18" text-anchor="start" fill="#222" font-weight="normal" stroke="#222" stroke-width="0.25" >激光焊缝跟踪</text>
<use href="#weld" transform="translate(526.4,812.4)"/>
<line x1="690.6" y1="676.6" x2="724.3" y2="676.6" stroke="#0a0a0a" stroke-width="4.5" stroke-linecap="butt"/>
<polygon points="749.3,676.6 720.3,664.3 723.3,676.6 720.3,688.9" fill="#0a0a0a" />
<use href="#tank" transform="translate(752.6,671.8)"/>
<text transform="translate(768.10,724.19) scale(1.085,1)" font-size="16.3" letter-spacing="1.81" text-anchor="start" fill="#222" font-weight="normal" stroke="#222" stroke-width="0.25" >脱脂</text>
<line x1="829" y1="676.6" x2="863.6" y2="676.6" stroke="#0a0a0a" stroke-width="4.5" stroke-linecap="butt"/>
<polygon points="888.6,676.6 859.6,664.3 862.6,676.6 859.6,688.9" fill="#0a0a0a" />
<use href="#heat" transform="translate(899.5,663.2)"/>
<text transform="translate(903.14,723.55) scale(1.085,1)" font-size="16.3" letter-spacing="1.37" text-anchor="start" fill="#222" font-weight="normal" stroke="#222" stroke-width="0.25" >固溶处理</text>
<polyline points="1000,675 1082.6,675 1082.6,709" fill="none" stroke="#0a0a0a" stroke-width="4.5" stroke-linejoin="miter"/>
<line x1="1082.6" y1="705" x2="1082.6" y2="710.2" stroke="#0a0a0a" stroke-width="4.5" stroke-linecap="butt"/>
<polygon points="1082.6,735.2 1070.3,706.2 1082.6,709.2 1094.9,706.2" fill="#0a0a0a" />
<line x1="39.5" y1="1031.75" x2="1080" y2="1031.75" stroke="#8f0a0a" stroke-width="5" stroke-linecap="butt"/>
<polygon points="1108.5,1031.8 1079.8,1019.8 1082.8,1031.8 1079.8,1043.8" fill="#8f0a0a" />
<rect x="60.75" y="1024" width="16.75" height="16" fill="#8f0a0a"/>
<line x1="212.5" y1="1011.8" x2="212.5" y2="1040.6" stroke="#8f0a0a" stroke-width="4.5" stroke-linecap="butt"/>
<line x1="369" y1="1011.8" x2="369" y2="1040.6" stroke="#8f0a0a" stroke-width="4.5" stroke-linecap="butt"/>
<line x1="524.4" y1="1011.8" x2="524.4" y2="1040.6" stroke="#8f0a0a" stroke-width="4.5" stroke-linecap="butt"/>
<line x1="682.8" y1="1011.8" x2="682.8" y2="1040.6" stroke="#8f0a0a" stroke-width="4.5" stroke-linecap="butt"/>
<line x1="804.2" y1="1011.8" x2="804.2" y2="1040.6" stroke="#8f0a0a" stroke-width="4.5" stroke-linecap="butt"/>
<line x1="961" y1="1011.8" x2="961" y2="1040.6" stroke="#8f0a0a" stroke-width="4.5" stroke-linecap="butt"/>
<text transform="translate(51.00,1064.10) scale(1.085,1)" font-size="16.3" letter-spacing="0.98" text-anchor="start" fill="#222" font-weight="normal" stroke="#222" stroke-width="0.25" >平板</text>
<text transform="translate(193.10,1064.10) scale(1.085,1)" font-size="16.3" letter-spacing="1.81" text-anchor="start" fill="#222" font-weight="normal" stroke="#222" stroke-width="0.25" >复验</text>
<text transform="translate(327.10,1064.55) scale(1.085,1)" font-size="16.3" letter-spacing="1.34" text-anchor="start" fill="#222" font-weight="normal" stroke="#222" stroke-width="0.25" >等离子切割</text>
<text transform="translate(475.98,1063.88) scale(1.085,1)" font-size="16.3" letter-spacing="2.08" text-anchor="start" fill="#222" font-weight="normal" stroke="#222" stroke-width="0.25" >边缘处理（刨边）</text>
<text transform="translate(667.16,1060.38) scale(1.085,1)" font-size="16.3" letter-spacing="4.05" text-anchor="start" fill="#222" font-weight="normal" stroke="#222" stroke-width="0.25" >卷管</text>
<text transform="translate(781.98,1060.38) scale(1.085,1)" font-size="16.3" letter-spacing="1.20" text-anchor="start" fill="#222" font-weight="normal" stroke="#222" stroke-width="0.25" >焊缝清洗</text>
<text transform="translate(912.08,1060.38) scale(1.085,1)" font-size="16.3" letter-spacing="1.64" text-anchor="start" fill="#222" font-weight="normal" stroke="#222" stroke-width="0.25" >整型预焊</text>
<g stroke="#333" stroke-width="0.9" stroke-linejoin="round">
<linearGradient id="gSide" x1="0" y1="0" x2="1" y2="0"><stop offset="0" stop-color="#ffffff"/><stop offset="1" stop-color="#b8e0c0"/></linearGradient>
<path d="M32.5,977.25 L96.5,973.25 L118,980 L55.5,987 Z" fill="#fff"/>
<path d="M32.5,977.25 L55.5,987 V997 L32.5,986.5 Z" fill="#c0e4c6"/>
<path d="M55.5,987 L118,980 V990.5 L55.5,997 Z" fill="url(#gSide)"/>
<path d="M32.5,982 L55.5,992 L118,985.25" fill="none"/>
</g>
<use href="#gauge" transform="translate(172.8,967.25)"/>
<g stroke="#333" stroke-width="0.9" stroke-linejoin="round">
<path d="M330.2,977.6 L394.5,974.2 L417.6,981.2 L353.1,988.3 Z" fill="url(#gGv)"/>
<path d="M330.2,977.6 L353.1,988.3 V993.1 L330.2,982.8 Z" fill="#c0e4c6"/>
<path d="M353.1,988.3 L417.6,981.2 V986.5 L353.1,993.1 Z" fill="url(#gSide)"/>
<path d="M372.5,968.1 V980.7 M378,968.6 V980.7 M384.8,968.8 V975.7" fill="none" stroke="#444"/>
<path d="M369.3,962.1 L387.2,963.4 V968.9 L369.3,967.6 Z" fill="url(#gGv)"/>
<path d="M382.2,980.5 C388,978.5 396,977.8 403.5,977.6" fill="none"/>
</g>
<g>
<rect x="475.5" y="977.9" width="84.2" height="8.1" fill="url(#gGv)" stroke="#555" stroke-width="0.9"/>
<rect x="558" y="961.4" width="6" height="16.6" fill="url(#gGv)" stroke="#555" stroke-width="0.9"/>
</g>
<circle cx="485.7" cy="991.7" r="4.7" fill="#ee22ee"/>
<circle cx="496.1" cy="991.7" r="4.7" fill="#ee22ee"/>
<circle cx="506.6" cy="991.7" r="4.7" fill="#ee22ee"/>
<circle cx="517.0" cy="991.7" r="4.7" fill="#ee22ee"/>
<circle cx="527.5" cy="991.7" r="4.7" fill="#ee22ee"/>
<circle cx="537.9" cy="991.7" r="4.7" fill="#ee22ee"/>
<circle cx="548.4" cy="991.7" r="4.7" fill="#ee22ee"/>
<g fill="none" stroke="#666" stroke-width="1.1">
<path d="M655.2,966.9 A28.6,24.8 0 0 0 712.4,966.9 L707.4,966.9 A23.15,19.8 0 0 1 661.1,966.9 Z" fill="#fff"/>
<circle cx="684.4" cy="977" r="7.4" fill="#fff"/>
<circle cx="669.6" cy="994.2" r="4.1" fill="#fff"/>
<circle cx="697.3" cy="994.2" r="4.1" fill="#fff"/>
</g>
<g>
<rect x="810.5" y="941" width="8.5" height="8" fill="#f4a0f4" stroke="#777" stroke-width="0.5"/>
<rect x="810.5" y="949" width="8.5" height="10" fill="#0a14e0"/>
<path d="M792,966 L824,951 C836,946 848,960 841,973 L806,994 C790,999 780,978 792,966 Z" fill="url(#gG)" stroke="#333" stroke-width="0.9"/>
<ellipse cx="800" cy="980" rx="14.5" ry="16.5" transform="rotate(-25 800 980)" fill="url(#gGv)" stroke="#333" stroke-width="0.9"/>
</g>
<use href="#rounder" transform="translate(937,940)"/>
<line x1="748" y1="463" x2="1372" y2="463" stroke="#0a0a0a" stroke-width="4.5" stroke-linecap="butt"/>
<polygon points="1398.0,463.0 1370.0,450.7 1373.0,463.0 1370.0,475.3" fill="#0a0a0a" />
<g>
<circle cx="1455" cy="470.5" r="20.5" fill="#fff" stroke="#444" stroke-width="0.9"/>
<path d="M1440.75,472 H1470 M1455,457.5 V487" stroke="#e040e0" stroke-width="1"/>
</g>
<text transform="translate(1439.00,513.10) scale(1.085,1)" font-size="16.3" letter-spacing="1.40" text-anchor="start" fill="#222" font-weight="normal" stroke="#222" stroke-width="0.25" >水压</text>
<line x1="1510" y1="465" x2="1572.5" y2="465" stroke="#0a0a0a" stroke-width="4.5" stroke-linecap="butt"/>
<polygon points="1597.5,465.0 1568.5,452.7 1571.5,465.0 1568.5,477.3" fill="#0a0a0a" />
<polyline points="1604,464.6 1681,464.6 1681,1045 1703,1045" fill="none" stroke="#0a0a0a" stroke-width="4.5" stroke-linejoin="miter"/>
<polygon points="1728.0,1045.0 1699.6,1032.7 1702.6,1045.0 1699.6,1057.3" fill="#0a0a0a" />
<line x1="1659.3" y1="548" x2="1700.7" y2="548" stroke="#0a0a0a" stroke-width="4.5" stroke-linecap="butt"/>
<line x1="1659.3" y1="668.8" x2="1700.7" y2="668.8" stroke="#0a0a0a" stroke-width="4.5" stroke-linecap="butt"/>
<line x1="1659.3" y1="808.3" x2="1700.7" y2="808.3" stroke="#0a0a0a" stroke-width="4.5" stroke-linecap="butt"/>
<line x1="1659.3" y1="928.4" x2="1700.7" y2="928.4" stroke="#0a0a0a" stroke-width="4.5" stroke-linecap="butt"/>
<text transform="translate(1570.05,547.88) scale(1.085,1)" font-size="16.3" letter-spacing="0.88" text-anchor="start" fill="#222" font-weight="normal" stroke="#222" stroke-width="0.25" >酸洗/钝化</text>
<text transform="translate(1604.97,808.25) scale(1.085,1)" font-size="16.3" letter-spacing="2.89" text-anchor="start" fill="#222" font-weight="normal" stroke="#222" stroke-width="0.25" >标识</text>
<text transform="translate(1606.00,931.25) scale(1.085,1)" font-size="16.3" letter-spacing="3.80" text-anchor="start" fill="#222" font-weight="normal" stroke="#222" stroke-width="0.25" >包装</text>
<text transform="translate(1605.02,1043.33) scale(1.085,1)" font-size="16.3" letter-spacing="2.81" text-anchor="start" fill="#222" font-weight="normal" stroke="#222" stroke-width="0.25" >发运</text>
<use href="#bath" transform="translate(1728.7,534.8) scale(1,0.95)"/>
<use href="#flask" transform="translate(1733.5,618) scale(1.0,1.0)"/>
<path d="M1760.5,658.2 H1769 M1764.75,654 V662.5" stroke="#555" stroke-width="1.1"/>
<use href="#gauge" transform="translate(1773,643.5)"/>
<text transform="translate(1716.50,706.00) scale(1.0,1)" font-size="12" letter-spacing="2.10" text-anchor="start" fill="#111" font-weight="normal" stroke="#111" stroke-width="0.45">包括：</text>
<text transform="translate(1716.50,721.30) scale(1.0,1)" font-size="12" letter-spacing="2.10" text-anchor="start" fill="#111" font-weight="normal" stroke="#111" stroke-width="0.45">理化性能</text>
<text transform="translate(1716.50,736.60) scale(1.0,1)" font-size="12" letter-spacing="2.10" text-anchor="start" fill="#111" font-weight="normal" stroke="#111" stroke-width="0.45">工艺性能</text>
<text transform="translate(1716.50,751.90) scale(1.0,1)" font-size="12" letter-spacing="2.10" text-anchor="start" fill="#111" font-weight="normal" stroke="#111" stroke-width="0.45">无损检测</text>
<text transform="translate(1716.50,767.20) scale(1.0,1)" font-size="12" letter-spacing="2.10" text-anchor="start" fill="#111" font-weight="normal" stroke="#111" stroke-width="0.45">耐腐蚀蚀试验</text>
<g>
<linearGradient id="gWM" x1="0" y1="0" x2="1" y2="0"><stop offset="0" stop-color="#ffffff"/><stop offset="1" stop-color="#f020f0"/></linearGradient>
<rect x="1771" y="802.8" width="31.4" height="13.3" rx="6.6" fill="url(#gGv)" stroke="#666" stroke-width="0.9"/>
<circle cx="1742.7" cy="811.7" r="29.5" fill="#fff" stroke="#e040e0" stroke-width="1"/>
<path d="M1713.8,799.1 H1771.6 V824.2 H1713.8 Z" fill="url(#gGv)"/>
<path d="M1713.8,799.1 H1771.6 M1713.8,824.2 H1771.6" stroke="#777" stroke-width="1.1"/>
<circle cx="1742.7" cy="811.7" r="29.5" fill="none" stroke="#e040e0" stroke-width="1"/>
</g>
<g>
<rect x="1731.9" y="902.5" width="48.3" height="65.9" fill="#fff" stroke="#666" stroke-width="0.9"/>
<rect x="1732" y="924.3" width="38" height="31.7" fill="#c3e3c8"/>
<path d="M1709.6,911 L1731.9,917 L1731.9,924.3 L1709.6,914 Z" fill="#111"/>
<path d="M1709,915 L1749.3,937.6 M1709,918 L1732.4,938" fill="none" stroke="#555" stroke-width="0.8"/>
<path d="M1732.4,925 L1749.3,931 L1749.3,937.6 L1732.4,931.7 Z" fill="url(#gWM)"/>
<path d="M1732.4,931.7 L1749.3,937.6 L1749.3,945 L1732.4,939 Z" fill="#e8f4ea"/>
<path d="M1732.4,939 L1749.3,945 L1749.3,952 L1732.4,945.7 Z" fill="url(#gWM)"/>
<path d="M1750.7,930 V953.8 M1760.4,930 V953.8 M1768.5,930 V953.8 M1752,945 H1769" fill="none" stroke="#f4f8f4" stroke-width="1.6"/>
<path d="M1750,929.5 L1769.5,928" fill="none" stroke="#9ab0a0" stroke-width="0.6"/>
</g>
<g stroke="#8a8a8a" stroke-width="1.1">
<rect x="1729" y="1023.9" width="70.4" height="14.2" fill="#858585" stroke="#777"/>
<path d="M1729,1031.4 H1799.4 M1744.4,1023.9 V1038.1 M1774.4,1023.9 V1038.1" fill="none" stroke="#2a2a2a" stroke-width="0.9"/>
<path d="M1728.6,1040 H1800.6 V1057.3 H1753.8 C1751,1052 1748,1049 1744.4,1049 C1740,1049 1737,1052 1736.1,1057.3 H1728.6 Z" fill="#fff"/>
<path d="M1804,1057.3 V1028 H1818.3 L1830.3,1044.9 V1057.3 H1824.3 C1823,1052 1820,1049 1815.7,1049 C1811,1049 1807,1052 1805.5,1057.3 Z" fill="#fff"/>
<circle cx="1744.6" cy="1057.3" r="4.9" fill="#fff"/>
<circle cx="1815.7" cy="1057.3" r="4.9" fill="#fff"/>
</g>
<g>
<rect x="1036.9" y="766.4" width="56.7" height="34.1" fill="url(#gBlue)" stroke="#0020a0" stroke-width="0.8"/>
<line x1="1032" y1="784.3" x2="1124.6" y2="784.3" stroke="#333" stroke-width="2.8"/>
</g>
<circle cx="1049.6" cy="777" r="4.6" fill="url(#gY)" stroke="#0a5a20" stroke-width="0.7"/>
<circle cx="1049.6" cy="791" r="4.6" fill="url(#gY)" stroke="#0a5a20" stroke-width="0.7"/>
<circle cx="1064.6" cy="777" r="4.6" fill="url(#gY)" stroke="#0a5a20" stroke-width="0.7"/>
<circle cx="1064.6" cy="791" r="4.6" fill="url(#gY)" stroke="#0a5a20" stroke-width="0.7"/>
<circle cx="1078.7" cy="777" r="4.6" fill="url(#gY)" stroke="#0a5a20" stroke-width="0.7"/>
<circle cx="1078.7" cy="791" r="4.6" fill="url(#gY)" stroke="#0a5a20" stroke-width="0.7"/>
<text transform="translate(1058.00,824.79) scale(1.085,1)" font-size="16.3" letter-spacing="0.48" text-anchor="start" fill="#222" font-weight="normal" stroke="#222" stroke-width="0.25" >校直</text>
<line x1="1154" y1="780.8" x2="1201.8" y2="780.8" stroke="#0a0a0a" stroke-width="4.5" stroke-linecap="butt"/>
<polygon points="1226.8,780.8 1197.8,768.5 1200.8,780.8 1197.8,793.1" fill="#0a0a0a" />
<use href="#bath" transform="translate(1245.6,771.8)"/>
<text transform="translate(1259.00,825.60) scale(1.085,1)" font-size="16.3" letter-spacing="1.48" text-anchor="start" fill="#222" font-weight="normal" stroke="#222" stroke-width="0.25" >酸洗</text>
<line x1="1329.9" y1="780.8" x2="1376.8" y2="780.8" stroke="#0a0a0a" stroke-width="4.5" stroke-linecap="butt"/>
<polygon points="1401.8,780.8 1372.8,768.5 1375.8,780.8 1372.8,793.1" fill="#0a0a0a" />
<g>
<rect x="1415.3" y="768.2" width="72" height="17.6" fill="url(#gGv)" stroke="#555" stroke-width="0.9"/>
<circle cx="1503.2" cy="778" r="14.4" fill="url(#gMr)" stroke="#7a507a" stroke-width="0.7"/>
<circle cx="1503.2" cy="778" r="4.2" fill="none" stroke="#7a307a" stroke-width="0.8"/>
</g>
<circle cx="1419.2" cy="791.4" r="4.2" fill="url(#gRoll)" stroke="#8a3a8a" stroke-width="0.6"/>
<circle cx="1429.5" cy="791.4" r="4.2" fill="url(#gRoll)" stroke="#8a3a8a" stroke-width="0.6"/>
<circle cx="1439.8" cy="791.4" r="4.2" fill="url(#gRoll)" stroke="#8a3a8a" stroke-width="0.6"/>
<circle cx="1450.1" cy="791.4" r="4.2" fill="url(#gRoll)" stroke="#8a3a8a" stroke-width="0.6"/>
<circle cx="1460.4" cy="791.4" r="4.2" fill="url(#gRoll)" stroke="#8a3a8a" stroke-width="0.6"/>
<circle cx="1470.7" cy="791.4" r="4.2" fill="url(#gRoll)" stroke="#8a3a8a" stroke-width="0.6"/>
<circle cx="1481.0" cy="791.4" r="4.2" fill="url(#gRoll)" stroke="#8a3a8a" stroke-width="0.6"/>
<text transform="translate(1437.97,825.69) scale(1.085,1)" font-size="16.3" letter-spacing="0.57" text-anchor="start" fill="#222" font-weight="normal" stroke="#222" stroke-width="0.25" >平头</text>
<line x1="1451.3" y1="733.75" x2="1451.3" y2="573.75" stroke="#0a0a0a" stroke-width="4.5" stroke-linecap="butt"/>
<polygon points="1451.3,548.8 1439.0,577.8 1451.3,574.8 1463.6,577.8" fill="#0a0a0a" />
<text transform="translate(1324.05,629.10) scale(1.085,1)" font-size="16.3" letter-spacing="3.88" text-anchor="start" fill="#222" font-weight="normal" stroke="#222" stroke-width="0.25" >探伤</text>
<text transform="translate(1257.00,650.00) scale(1,1)" font-size="16.3" letter-spacing="-6.30" text-anchor="start" fill="#222" font-weight="normal" >(</text>
<text transform="translate(1268.00,650.00) scale(1,1)" font-size="16.3" letter-spacing="-4.30" text-anchor="start" fill="#222" font-weight="normal" >X</text>
<text transform="translate(1280.00,650.00) scale(1.085,1)" font-size="16.3" letter-spacing="2.13" text-anchor="start" fill="#222" font-weight="normal" stroke="#222" stroke-width="0.25" >射线或涡流检测</text>
<text transform="translate(1425.00,650.00) scale(1,1)" font-size="16.3" letter-spacing="-6.30" text-anchor="start" fill="#222" font-weight="normal" >)</text>
<line x1="1451.6" y1="975.3" x2="1451.6" y2="889.8" stroke="#0a0a0a" stroke-width="4.5" stroke-linecap="butt"/>
<polygon points="1451.6,864.8 1439.3,893.8 1451.6,890.8 1463.9,893.8" fill="#0a0a0a" />
<use href="#weld" transform="translate(1150.9,1015)"/>
<text transform="translate(1114.24,1068.87) scale(1.085,1)" font-size="16.3" letter-spacing="1.35" text-anchor="start" fill="#222" font-weight="normal" stroke="#222" stroke-width="0.25" >计算机控制自动焊接</text>
<text transform="translate(1143.38,1089.64) scale(1.085,1)" font-size="16.3" letter-spacing="1.11" text-anchor="start" fill="#222" font-weight="normal" stroke="#222" stroke-width="0.25" >焊缝自动跟踪</text>
<line x1="1255.8" y1="1030.4" x2="1360.6" y2="1030.4" stroke="#0a0a0a" stroke-width="4.5" stroke-linecap="butt"/>
<polygon points="1385.6,1030.4 1356.6,1018.1 1359.6,1030.4 1356.6,1042.7" fill="#0a0a0a" />
<use href="#rounder" transform="translate(1427.2,991.2)"/>
<text transform="translate(1432.13,1069.92) scale(1.085,1)" font-size="16.3" letter-spacing="4.38" text-anchor="start" fill="#222" font-weight="normal" stroke="#222" stroke-width="0.25" >整圆</text>
<polyline points="1199.4,1106 1199.4,1169.5 1232,1169.5" fill="none" stroke="#0a0a0a" stroke-width="4.5" stroke-linejoin="miter"/>
<polygon points="1257.0,1169.5 1228.5,1157.2 1231.5,1169.5 1228.5,1181.8" fill="#0a0a0a" />
<use href="#bath" transform="translate(1262.2,1147)"/>
<text transform="translate(1279.04,1201.92) scale(1.085,1)" font-size="16.3" letter-spacing="1.31" text-anchor="start" fill="#222" font-weight="normal" stroke="#222" stroke-width="0.25" >去油</text>
<line x1="1343.2" y1="1168" x2="1362.3" y2="1168" stroke="#0a0a0a" stroke-width="4.5" stroke-linecap="butt"/>
<polygon points="1383.5,1168.0 1358.3,1155.7 1361.3,1168.0 1358.3,1180.3" fill="#0a0a0a" />
<use href="#heat" transform="translate(1408.2,1150.9)"/>
<text transform="translate(1416.14,1202.37) scale(1.085,1)" font-size="16.3" letter-spacing="0.95" text-anchor="start" fill="#222" font-weight="normal" stroke="#222" stroke-width="0.25" >固溶处理</text>
<line x1="1450.3" y1="1140.3" x2="1450.3" y2="1122.3" stroke="#0a0a0a" stroke-width="4.5" stroke-linecap="butt"/>
<polygon points="1450.3,1101.0 1438.0,1126.3 1450.3,1123.3 1462.6,1126.3" fill="#0a0a0a" />
</svg></body></html>
